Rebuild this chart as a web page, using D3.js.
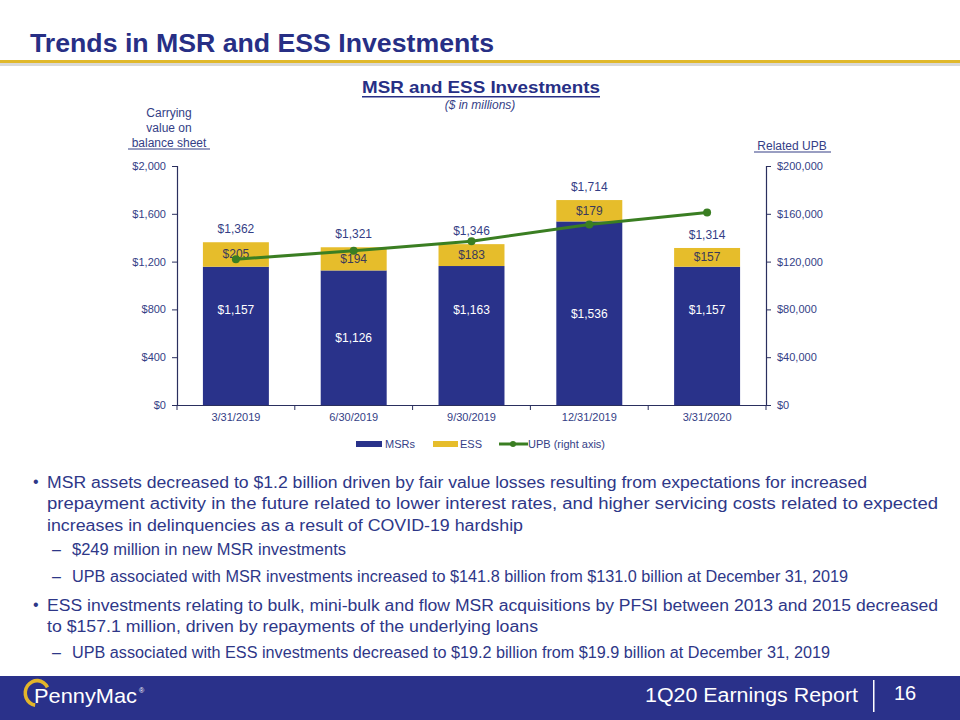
<!DOCTYPE html>
<html>
<head>
<meta charset="utf-8">
<script src="https://cdn.jsdelivr.net/npm/d3@7"></script>
<style>
  html, body { margin: 0; padding: 0; background: #ffffff; }
  svg { display: block; }
  text { font-family: "Liberation Sans", Arial, sans-serif; }
</style>
</head>
<body>
<svg id="chart" width="960" height="720"></svg>
<script>
// ---------- data ----------
const categories = ["3/31/2019", "6/30/2019", "9/30/2019", "12/31/2019", "3/31/2020"];
const msrValues  = [1157, 1126, 1163, 1536, 1157];
const essValues  = [205, 194, 183, 179, 157];
const totalValues = [1362, 1321, 1346, 1714, 1314];
const upbValues  = [122000, 129000, 137000, 151000, 161000];
const leftTicks  = [0, 400, 800, 1200, 1600, 2000];
const rightTicks = [0, 40000, 80000, 120000, 160000, 200000];
const seriesNames = ["MSRs", "ESS", "UPB (right axis)"];

// ---------- style ----------
const NAVY = "#29328A", GOLD = "#E6BD2B", GREEN = "#3A7E22", TEXT = "#343E86", TITLE = "#272F85";

const svg = d3.select("#chart");

// page title
svg.append("text").attr("x", 30).attr("y", 52)
  .attr("font-size", 26).attr("font-weight", "bold").attr("fill", TITLE)
  .attr("textLength", 464).attr("lengthAdjust", "spacingAndGlyphs")
  .text("Trends in MSR and ESS Investments");
svg.append("rect").attr("x", 0).attr("y", 60).attr("width", 960).attr("height", 3).attr("fill", "#E0B82C");
svg.append("rect").attr("x", 0).attr("y", 63).attr("width", 960).attr("height", 3).attr("fill", "#d9d9d9");

// chart title
svg.append("text").attr("x", 481).attr("y", 93).attr("text-anchor", "middle")
  .attr("font-size", 16.5).attr("font-weight", "bold").attr("fill", TITLE)
  .attr("textLength", 238).attr("lengthAdjust", "spacingAndGlyphs")
  .text("MSR and ESS Investments");
svg.append("rect").attr("x", 362).attr("y", 96).attr("width", 238).attr("height", 1.5).attr("fill", TITLE);
svg.append("text").attr("x", 480).attr("y", 109).attr("text-anchor", "middle")
  .attr("font-size", 12).attr("font-style", "italic").attr("fill", TEXT)
  .text("($ in millions)");

// axis captions
const capG = svg.append("g").attr("font-size", 12).attr("fill", TEXT).attr("text-anchor", "middle");
capG.append("text").attr("x", 169).attr("y", 117).text("Carrying");
capG.append("text").attr("x", 169).attr("y", 132).text("value  on");
capG.append("text").attr("x", 169).attr("y", 147).text("balance  sheet");
svg.append("rect").attr("x", 128).attr("y", 148.5).attr("width", 82).attr("height", 1).attr("fill", TEXT);
capG.append("text").attr("x", 792).attr("y", 150).text("Related  UPB");
svg.append("rect").attr("x", 754).attr("y", 151.5).attr("width", 77).attr("height", 1).attr("fill", TEXT);

// ---------- scales ----------
const plot = { left: 177, right: 766, top: 166, bottom: 405 };
const x = d3.scaleBand().domain(categories).range([plot.left, plot.right]).paddingInner(0.44).paddingOuter(0.22);
const yL = d3.scaleLinear().domain([0, 2000]).range([plot.bottom, plot.top]);
const yR = d3.scaleLinear().domain([0, 200000]).range([plot.bottom, plot.top]);
const fmt = d3.format(",");

// bars
const barG = svg.append("g");
categories.forEach((c, i) => {
  barG.append("rect").attr("x", x(c)).attr("width", x.bandwidth())
    .attr("y", yL(msrValues[i])).attr("height", yL(0) - yL(msrValues[i])).attr("fill", NAVY);
  barG.append("rect").attr("x", x(c)).attr("width", x.bandwidth())
    .attr("y", yL(msrValues[i] + essValues[i])).attr("height", yL(0) - yL(essValues[i])).attr("fill", GOLD);
});

// axes
const axisColor = "#2a2f5e";
const gL = svg.append("g").attr("transform", `translate(${plot.left},0)`)
  .call(d3.axisLeft(yL).tickValues(leftTicks).tickFormat(d => "$" + fmt(d)).tickSizeOuter(0).tickSize(5).tickPadding(6));
const gR = svg.append("g").attr("transform", `translate(${plot.right},0)`)
  .call(d3.axisRight(yR).tickValues(rightTicks).tickFormat(d => "$" + fmt(d)).tickSizeOuter(0).tickSize(5).tickPadding(6));
const gX = svg.append("g").attr("transform", `translate(0,${plot.bottom})`)
  .call(d3.axisBottom(x).tickSize(0).tickPadding(8));
// x ticks between categories
const step = x.step();
const boundaries = d3.range(categories.length + 1).map(k => plot.left + k * (plot.right - plot.left) / categories.length);
gX.selectAll(".bnd").data(boundaries).enter().append("line").attr("class", "bnd")
  .attr("x1", d => d).attr("x2", d => d).attr("y1", 0).attr("y2", 5).attr("stroke", axisColor);
[gL, gR, gX].forEach(g => {
  g.selectAll("path.domain").attr("stroke", axisColor).attr("stroke-width", 1.2);
  g.selectAll(".tick line").attr("stroke", axisColor);
  g.selectAll("text").attr("font-family", "Liberation Sans, Arial, sans-serif").attr("font-size", 11).attr("fill", TEXT);
});

// bar labels
const lblG = svg.append("g").attr("font-size", 12).attr("text-anchor", "middle");
const msrLabelAt = [800, null, 800, null, 800];
categories.forEach((c, i) => {
  const cx = x(c) + x.bandwidth() / 2;
  const my = msrLabelAt[i] !== null ? yL(msrLabelAt[i]) : (yL(0) + yL(msrValues[i])) / 2;
  lblG.append("text").attr("x", cx).attr("y", my + 4.5).attr("fill", "#ffffff").text("$" + fmt(msrValues[i]));
  const ey = (yL(msrValues[i]) + yL(msrValues[i] + essValues[i])) / 2;
  lblG.append("text").attr("x", cx).attr("y", ey + 4).attr("fill", "#3a3a5a").text("$" + fmt(essValues[i]));
  lblG.append("text").attr("x", cx).attr("y", yL(totalValues[i]) - 9).attr("fill", TEXT).text("$" + fmt(totalValues[i]));
});

// UPB line
const line = d3.line().x((d, i) => x(categories[i]) + x.bandwidth() / 2).y(d => yR(d));
svg.append("path").datum(upbValues).attr("d", line).attr("fill", "none").attr("stroke", GREEN).attr("stroke-width", 3);
svg.append("g").selectAll("circle").data(upbValues).enter().append("circle")
  .attr("cx", (d, i) => x(categories[i]) + x.bandwidth() / 2).attr("cy", d => yR(d)).attr("r", 4).attr("fill", GREEN);

// legend
const lg = svg.append("g").attr("font-size", 11).attr("fill", TEXT);
lg.append("rect").attr("x", 356).attr("y", 441).attr("width", 26).attr("height", 6).attr("fill", NAVY);
lg.append("text").attr("x", 385).attr("y", 448).text(seriesNames[0]);
lg.append("rect").attr("x", 433).attr("y", 441).attr("width", 25).attr("height", 6).attr("fill", GOLD);
lg.append("text").attr("x", 460).attr("y", 448).text(seriesNames[1]);
lg.append("line").attr("x1", 499).attr("x2", 528).attr("y1", 444).attr("y2", 444).attr("stroke", GREEN).attr("stroke-width", 3);
lg.append("circle").attr("cx", 513).attr("cy", 444).attr("r", 3).attr("fill", GREEN);
lg.append("text").attr("x", 528).attr("y", 448).text(seriesNames[2]);

// bullets
const bullets = [
  { t: "•", x: 33, y: 487 },
  { t: "MSR assets decreased to $1.2 billion driven by fair value losses resulting from expectations for increased", x: 47, y: 488, w: 820 },
  { t: "prepayment activity in the future related to lower interest rates, and higher servicing costs related to expected", x: 47, y: 509, w: 891 },
  { t: "increases in delinquencies as a result of COVID-19 hardship", x: 47, y: 531, w: 476 },
  { t: "–", x: 52, y: 555 },
  { t: "$249 million in new MSR investments", x: 72, y: 555, w: 274 },
  { t: "–", x: 52, y: 582 },
  { t: "UPB associated with MSR investments increased to $141.8 billion from $131.0 billion at December 31, 2019", x: 72, y: 582, w: 776 },
  { t: "•", x: 33, y: 610 },
  { t: "ESS investments relating to bulk, mini-bulk and flow MSR acquisitions by PFSI between 2013 and 2015 decreased", x: 47, y: 611, w: 891 },
  { t: "to $157.1 million, driven by repayments of the underlying loans", x: 47, y: 632, w: 491 },
  { t: "–", x: 52, y: 658 },
  { t: "UPB associated with ESS investments decreased to $19.2 billion from $19.9 billion at December 31, 2019", x: 72, y: 658, w: 758 }
];
const bg = svg.append("g").attr("font-size", 16).attr("fill", "#2E3788");
bullets.forEach(b => {
  const t = bg.append("text").attr("x", b.x).attr("y", b.y).text(b.t);
  if (b.w) t.attr("textLength", b.w).attr("lengthAdjust", "spacingAndGlyphs");
});

// footer
svg.append("rect").attr("x", 0).attr("y", 676).attr("width", 960).attr("height", 44).attr("fill", "#2A318A");
svg.append("text").attr("x", 645).attr("y", 702).attr("font-size", 20).attr("fill", "#ffffff")
  .attr("textLength", 213).attr("lengthAdjust", "spacingAndGlyphs").text("1Q20 Earnings Report");
svg.append("rect").attr("x", 873).attr("y", 680).attr("width", 1.5).attr("height", 32).attr("fill", "#ffffff");
svg.append("text").attr("x", 894).attr("y", 700).attr("font-size", 20).attr("fill", "#ffffff").text("16");

// logo
const logo = svg.append("g");
const arc = d3.arc().innerRadius(10).outerRadius(13.5).startAngle(-Math.PI * 0.95).endAngle(Math.PI * 0.35);
logo.append("path").attr("d", arc()).attr("transform", "translate(37,693) scale(1,1.05)").attr("fill", "#E3B52A");
logo.append("text").attr("x", 34).attr("y", 703).attr("font-size", 21).attr("fill", "#ffffff")
  .attr("textLength", 103).attr("lengthAdjust", "spacingAndGlyphs").text("PennyMac");
logo.append("text").attr("x", 139).attr("y", 693).attr("font-size", 7).attr("fill", "#ffffff").text("®");
</script>
</body>
</html>
